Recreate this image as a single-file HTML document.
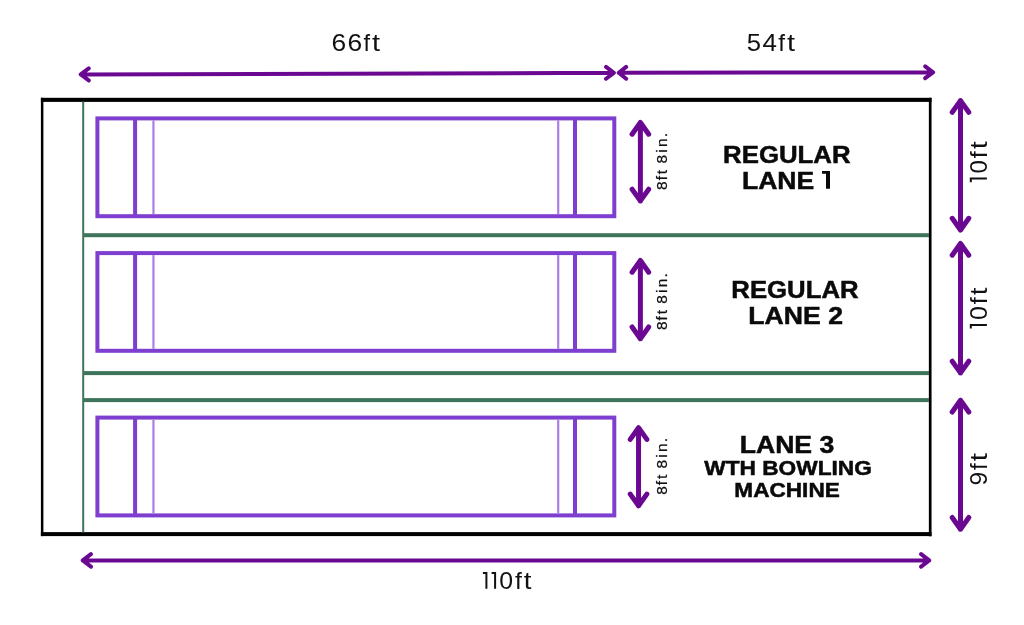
<!DOCTYPE html>
<html>
<head>
<meta charset="utf-8">
<style>
html,body{margin:0;padding:0;background:#fff;}
body{width:1024px;height:625px;overflow:hidden;}
svg{display:block;will-change:transform;}
text{font-family:"Liberation Sans",sans-serif;}
</style>
</head>
<body>
<svg width="1024" height="625" viewBox="0 0 1024 625">
<rect width="1024" height="625" fill="#fff"/>

<g fill="#000">
<rect x="40.9" y="97.8" width="890.6" height="4.1"/>
<rect x="40.9" y="532.1" width="890.6" height="4.0"/>
<rect x="40.9" y="97.8" width="2.5" height="438.3"/>
<rect x="928.85" y="97.8" width="2.7" height="438.5"/>
</g>
<g fill="#3d745b">
<rect x="82.2" y="101.6" width="2" height="430.8"/>
<rect x="83" y="233.2" width="846" height="4.0"/>
<rect x="83" y="371.1" width="846" height="4.0"/>
<rect x="83" y="398.1" width="846" height="4.0"/>
</g>
<g fill="none" stroke="#7e3ecf" stroke-width="4.0">
<rect x="97.4" y="118.4" width="516.9" height="97.8"/>
<line x1="135.1" y1="118.4" x2="135.1" y2="216.2"/>
<line x1="575" y1="118.4" x2="575" y2="216.2"/>
<rect x="97.4" y="253.1" width="516.9" height="97.7"/>
<line x1="135.1" y1="253.1" x2="135.1" y2="350.8"/>
<line x1="575" y1="253.1" x2="575" y2="350.8"/>
<rect x="97.4" y="417.6" width="516.9" height="97.8"/>
<line x1="135.1" y1="417.6" x2="135.1" y2="515.4"/>
<line x1="575" y1="417.6" x2="575" y2="515.4"/>
</g>
<g fill="none" stroke="#a97ee6" stroke-width="2.2">
<line x1="153.45" y1="120.4" x2="153.45" y2="214.2"/>
<line x1="558.2" y1="120.4" x2="558.2" y2="214.2"/>
<line x1="153.45" y1="255.1" x2="153.45" y2="348.8"/>
<line x1="558.2" y1="255.1" x2="558.2" y2="348.8"/>
<line x1="153.45" y1="419.6" x2="153.45" y2="513.4"/>
<line x1="558.2" y1="419.6" x2="558.2" y2="513.4"/>
</g>
<g fill="none" stroke="#6a0891" stroke-width="4.0" stroke-linecap="round" stroke-linejoin="round">
<path d="M80.75 74.45 L613.85 72.85 M88.75 68.45 L80.75 74.45 L88.75 80.45 M606.05 66.95 L613.85 72.85 L606.05 78.75"/>
<path d="M618.75 72.8 L933.1 72.3 M626.15 66.90 L618.75 72.80 L626.15 78.70 M925.20 66.40 L933.10 72.30 L925.20 78.20"/>
<path d="M82.75 560.4 L929.2 560.4 M90.95 554.10 L82.75 560.40 L90.95 566.70 M921.10 554.10 L929.20 560.40 L921.10 566.70"/>
</g>
<g fill="none" stroke="#6a0891" stroke-width="5.0" stroke-linecap="round" stroke-linejoin="round">
<path d="M640.38 122.50 L640.38 200.90 M632.08 134.20 L640.38 122.50 L648.68 134.20 M632.08 189.20 L640.38 200.90 L648.68 189.20"/>
<path d="M640.38 260.50 L640.38 338.70 M632.08 272.20 L640.38 260.50 L648.68 272.20 M632.08 327.00 L640.38 338.70 L648.68 327.00"/>
<path d="M638.55 427.70 L638.55 505.80 M630.25 439.40 L638.55 427.70 L646.85 439.40 M630.25 494.10 L638.55 505.80 L646.85 494.10"/>
<path d="M960.5 100.60 L960.5 230.00 M952.20 112.30 L960.5 100.60 L968.80 112.30 M952.20 218.30 L960.5 230.00 L968.80 218.30"/>
<path d="M960.5 243.50 L960.5 372.90 M952.20 255.20 L960.5 243.50 L968.80 255.20 M952.20 361.20 L960.5 372.90 L968.80 361.20"/>
<path d="M960.5 400.30 L960.5 529.20 M952.20 412.00 L960.5 400.30 L968.80 412.00 M952.20 517.50 L960.5 529.20 L968.80 517.50"/>
</g>
<g fill="#111">
<text x="331.46" y="51.1" font-size="24.5" textLength="14.70" lengthAdjust="spacingAndGlyphs">6</text><text x="347.46" y="51.1" font-size="24.5" textLength="14.70" lengthAdjust="spacingAndGlyphs">6</text><text x="363.46" y="51.1" font-size="24.5" textLength="6.60" lengthAdjust="spacingAndGlyphs">f</text><text x="371.96" y="51.1" font-size="24.5" textLength="8.05" lengthAdjust="spacingAndGlyphs">t</text>
<text x="746.77" y="51.1" font-size="24.5" textLength="14.31" lengthAdjust="spacingAndGlyphs">5</text><text x="762.40" y="51.1" font-size="24.5" textLength="14.46" lengthAdjust="spacingAndGlyphs">4</text><text x="778.25" y="51.1" font-size="24.5" textLength="6.81" lengthAdjust="spacingAndGlyphs">f</text><text x="786.96" y="51.1" font-size="24.5" textLength="8.05" lengthAdjust="spacingAndGlyphs">t</text>
<text x="499.33" y="588.8" font-size="24" textLength="13.84" lengthAdjust="spacingAndGlyphs">0</text><text x="514.95" y="588.8" font-size="24" textLength="6.92" lengthAdjust="spacingAndGlyphs">f</text><text x="523.88" y="588.8" font-size="24" textLength="7.72" lengthAdjust="spacingAndGlyphs">t</text>
<path fill="none" stroke="#111" stroke-width="2.0" d="M482.90 573.00 H486.40 V588.80 M491.60 573.00 H495.10 V588.80"/>
<g transform="translate(986.9 183.0) rotate(-90)"><text x="9.45" y="0" font-size="24.5" textLength="13.50" lengthAdjust="spacingAndGlyphs">0</text><text x="24.65" y="0" font-size="24.5" textLength="6.92" lengthAdjust="spacingAndGlyphs">f</text><text x="34.08" y="0" font-size="24.5" textLength="7.72" lengthAdjust="spacingAndGlyphs">t</text><path fill="none" stroke="#111" stroke-width="2.0" d="M0.80 -16.10 H4.40 V0.00"/></g>
<g transform="translate(986.9 329.4) rotate(-90)"><text x="9.42" y="0" font-size="24.5" textLength="13.96" lengthAdjust="spacingAndGlyphs">0</text><text x="25.05" y="0" font-size="24.5" textLength="6.92" lengthAdjust="spacingAndGlyphs">f</text><text x="34.50" y="0" font-size="24.5" textLength="7.40" lengthAdjust="spacingAndGlyphs">t</text><path fill="none" stroke="#111" stroke-width="2.0" d="M0.80 -16.10 H4.40 V0.00"/></g>
<g transform="translate(986.9 485.0) rotate(-90)"><text x="-0.46" y="0" font-size="24.5" textLength="13.73" lengthAdjust="spacingAndGlyphs">9</text><text x="14.96" y="0" font-size="24.5" textLength="6.71" lengthAdjust="spacingAndGlyphs">f</text><text x="23.86" y="0" font-size="24.5" textLength="8.16" lengthAdjust="spacingAndGlyphs">t</text></g>
</g><g fill="#111" stroke="#111" stroke-width="0.25">
<g transform="translate(667.0 190.0) rotate(-90)"><text x="0.13 9.78 15.87 22.00 26.53 37.16 42.97 52.68" y="0" font-size="15.5">8ft 8in.</text></g>
<g transform="translate(667.4 330.2) rotate(-90)"><text x="0.13 9.78 15.87 22.00 26.53 37.16 42.97 52.68" y="0" font-size="15.5">8ft 8in.</text></g>
<g transform="translate(667.4 494.9) rotate(-90)"><text x="0.13 9.78 15.87 22.00 26.53 37.16 42.97 52.68" y="0" font-size="15.5">8ft 8in.</text></g>
</g>
<g fill="#0a0a0a" stroke="#0a0a0a" stroke-width="0.5" font-weight="bold">
<text x="723.08" y="163.1" font-size="24" textLength="127.45" lengthAdjust="spacingAndGlyphs">REGULAR</text>
<text x="741.98" y="188.8" font-size="24" textLength="72.16" lengthAdjust="spacingAndGlyphs">LANE</text>
<path stroke="none" d="M822.0 170.9 H830.0 V188.8 H826.0 V173.8 H822.0 Z"/>
<text x="731.38" y="297.5" font-size="24" textLength="127.15" lengthAdjust="spacingAndGlyphs">REGULAR</text>
<text x="748.32" y="323.5" font-size="24" textLength="94.65" lengthAdjust="spacingAndGlyphs">LANE 2</text>
<text x="739.72" y="452.8" font-size="24" textLength="94.54" lengthAdjust="spacingAndGlyphs">LANE 3</text>
<text x="704.33" y="475.1" font-size="20" textLength="167.48" lengthAdjust="spacingAndGlyphs">WTH BOWLING</text>
<text x="734.39" y="496.7" font-size="20" textLength="105.39" lengthAdjust="spacingAndGlyphs">MACHINE</text>
</g>
</svg>
</body>
</html>
